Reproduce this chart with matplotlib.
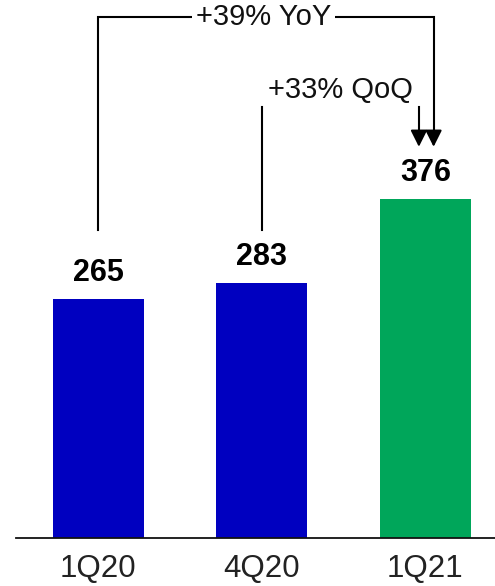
import matplotlib
matplotlib.use('Agg')
import matplotlib.pyplot as plt

# quarterly values
quarters = ['1Q20', '4Q20', '1Q21']
values = [265, 283, 376]
colors = ['#0000C0', '#0000C0', '#00A65A']

yoy_label = '+39% YoY'
qoq_label = '+33% QoQ'

plt.rcParams['font.family'] = ['Liberation Sans', 'DejaVu Sans']

fig = plt.figure(figsize=(4.95, 5.86), dpi=100)
ax = fig.add_axes([0, 0.0824, 1, 0.9176])

x = list(range(len(quarters)))
ax.bar(x, values, width=0.556, color=colors, zorder=2)
ax.set_xlim(-0.599, 2.425)
ax.set_ylim(0, 597)

for xi, v in zip(x, values):
    ax.annotate(str(v), (xi, v), xytext=(0, 8), textcoords='offset points',
                ha='center', va='bottom', fontsize=22, fontweight='bold')

# baseline
ax.plot([-0.5, 2.425], [0, 0], color='#111111', lw=1.3, clip_on=False, zorder=3)

# bracket lines for growth callouts
base = 342
top = 578
qoq_top = 478
tip = values[2] + 58
lw = 1.5
ax.plot([x[0], x[0], x[2] + 0.05, x[2] + 0.05], [base, top, top, tip + 14],
        color='black', lw=lw, solid_joinstyle='miter')
ax.plot([x[1], x[1]], [base, qoq_top], color='black', lw=lw)
ax.plot([x[2] - 0.04, x[2] - 0.04], [qoq_top, tip + 14], color='black', lw=lw)
for ax_x in (x[2] - 0.04, x[2] + 0.05):
    ax.annotate('', xy=(ax_x, tip), xytext=(ax_x, tip + 17),
                arrowprops=dict(arrowstyle='-|>,head_length=1.0,head_width=0.5',
                                color='black', lw=lw, shrinkA=0, shrinkB=0))

ax.text(1.01, top, yoy_label, ha='center', va='center', fontsize=21,
        color='#111111', bbox=dict(facecolor='white', edgecolor='none', pad=3))
ax.text(1.48, 497, qoq_label, ha='center', va='center', fontsize=21,
        color='#111111')

ax.set_xticks(x)
ax.set_xticklabels(quarters, fontsize=22.5, color='#222222')
ax.tick_params(axis='x', length=0, pad=12)
ax.set_yticks([])
for s in ax.spines.values():
    s.set_visible(False)

fig.savefig('out.png', dpi=100)
